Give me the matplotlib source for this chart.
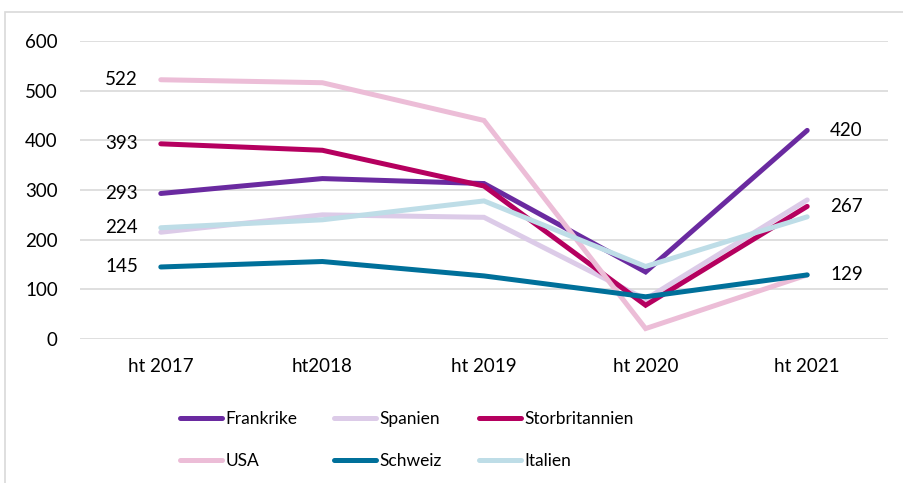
import matplotlib.pyplot as plt
from matplotlib.patches import Rectangle

plt.rcParams['font.family'] = ['Lato', 'DejaVu Sans']

kategorier = ['ht 2017', 'ht2018', 'ht 2019', 'ht 2020', 'ht 2021']

frankrike = [293, 323, 313, 135, 420]
spanien = [215, 250, 245, 80, 280]
storbritannien = [393, 380, 308, 68, 267]
usa = [522, 516, 440, 21, 129]
schweiz = [145, 156, 127, 85, 129]
italien = [224, 240, 278, 146, 246]

namn = ['Frankrike', 'Spanien', 'Storbritannien', 'USA', 'Schweiz', 'Italien']
serier = [frankrike, spanien, storbritannien, usa, schweiz, italien]
farger = ['#6a2aa0', '#dccbe8', '#b5005f', '#ecbdd7', '#00709a', '#bedde7']

# etiketter vid första och sista punkten
etikett_start = {'USA': 522, 'Storbritannien': 393, 'Frankrike': 293, 'Italien': 224, 'Schweiz': 145}
etikett_slut = {'Frankrike': 420, 'Storbritannien': 267, 'Schweiz': 129}

fs = 13.5
fs_leg = 12.5

fig = plt.figure(figsize=(9.04, 4.83), dpi=100)
ax = fig.add_axes([80 / 904, 1 - 339 / 483, 808 / 904, 298 / 483])

x = list(range(len(kategorier)))
linjer = []
for n, s, c in zip(namn, serier, farger):
    l, = ax.plot(x, s, color=c, lw=3.6, solid_capstyle='round', solid_joinstyle='miter', label=n)
    linjer.append(l)

for n, v in etikett_start.items():
    ax.annotate(str(v), (0, v), xytext=(-16.5, 0), textcoords='offset points',
                ha='right', va='center', fontsize=fs)
for n, v in etikett_slut.items():
    i = namn.index(n)
    ax.annotate(str(v), (4, serier[i][4]), xytext=(16.5, 0), textcoords='offset points',
                ha='left', va='center', fontsize=fs)

ax.set_xlim(-0.5, 4.5)
ax.set_ylim(0, 600)
ax.set_yticks(range(0, 601, 100))
ax.set_xticks(x)
ax.set_xticklabels(kategorier)
ax.tick_params(length=0, labelsize=fs, colors='black')
ax.tick_params(axis='y', pad=16)
ax.tick_params(axis='x', pad=14)
ax.grid(axis='y', color='#d9d9d9', lw=1.2)
ax.set_axisbelow(True)
for sp in ax.spines.values():
    sp.set_visible(False)

# radvis ordning i legenden (matplotlib fyller kolumnvis)
ordning = [0, 3, 1, 4, 2, 5]
fig.legend(handles=[linjer[i] for i in ordning], loc='upper left',
           bbox_to_anchor=(180 / 904, 1 - 411 / 483), borderaxespad=0, borderpad=0,
           ncol=3, frameon=False, fontsize=fs_leg, handlelength=2.4, handletextpad=0.2,
           columnspacing=2.15, labelspacing=1.5)

fig.patches.append(Rectangle((5 / 904, -0.1), 1.2, 1 - 12 / 483 + 0.1, transform=fig.transFigure,
                             fill=False, edgecolor='#d9d9d9', lw=1.2))

fig.savefig('out.png', dpi=100)
